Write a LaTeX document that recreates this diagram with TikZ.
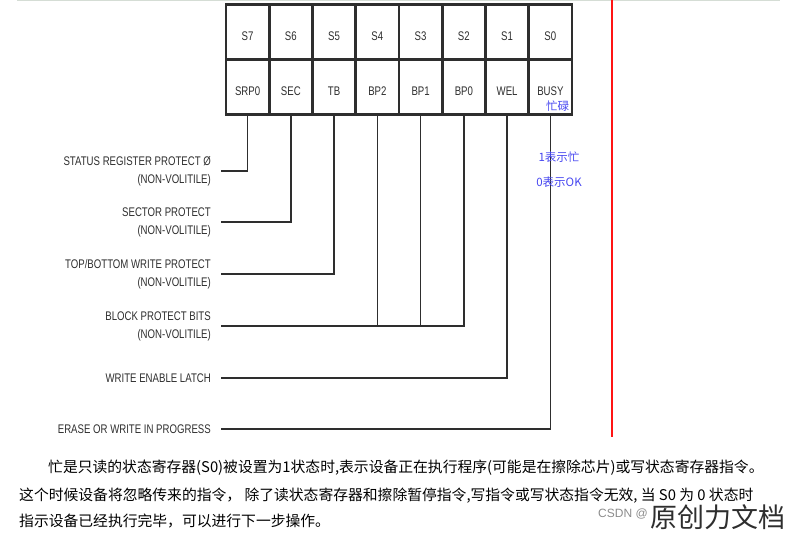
\documentclass[tikz,border=0pt]{standalone}
\usepackage{fontspec}
\usepackage{xcolor}
\usetikzlibrary{positioning}
\newfontfamily\labelfont[FakeStretch=0.77]{Liberation Sans}
\newfontfamily\cjkfont{Noto Sans CJK SC}
\definecolor{cInk}{HTML}{2E2E2E}
\definecolor{cNote}{HTML}{4646F0}
\definecolor{cRed}{HTML}{FF1414}
\definecolor{cRule}{HTML}{D5DDD5}
\definecolor{cMark}{HTML}{8C8C8C}
\tikzset{
  cell/.style ={draw=cInk, line width=2.6pt, minimum width=43.25pt, minimum height=54.5pt,
                inner sep=0pt, text height=17pt, text depth=0pt, text=cInk,
                font=\labelfont\fontsize{12.5}{15}\selectfont},
  wire/.style ={draw=cInk, line width=1.6pt},
  bitlbl/.style={anchor=east, align=right, inner sep=0pt, text=cInk,
                font=\labelfont\fontsize{12.5}{18}\selectfont},
  note/.style ={text=cNote, inner sep=0pt, font=\cjkfont\fontsize{11.5}{14}\selectfont},
  para/.style ={anchor=base west, inner sep=0pt, text=black, font=\cjkfont\fontsize{14.8}{18}\selectfont},
}

\begin{document}
\begin{tikzpicture}[x=1pt,y=-1pt]
  \useasboundingbox (0,0) rectangle (792,533);
  \draw[cRule, line width=1pt] (17,0.8) -- (780,0.8);
  \draw[cRed, line width=2.2pt] (612,0) -- (612,437);

  % status register cells
  \foreach \s/\b [count=\i from 0] in {7/SRP0,6/SEC,5/TB,4/BP2,3/BP1,2/BP0,1/WEL,0/BUSY}{
    \node[cell] (s\s) at ({247.6+43.25*\i},32) {S\s};
    \node[cell] (b\s) at ({247.6+43.25*\i},87) {\b};
  }
  \node[note, anchor=south east, xshift=-4pt, yshift=3.5pt] (busycn) at (b0.south east) {忙碌};

  % bit descriptions
  \node[bitlbl] (lsrp) at (211,171) {STATUS REGISTER PROTECT Ø\\(NON-VOLITILE)};
  \node[bitlbl] (lsec) at (211,222) {SECTOR PROTECT\\(NON-VOLITILE)};
  \node[bitlbl] (ltb) at (211,274) {TOP/BOTTOM WRITE PROTECT\\(NON-VOLITILE)};
  \node[bitlbl] (lbp) at (211,326) {BLOCK PROTECT BITS\\(NON-VOLITILE)};
  \node[bitlbl] (lwel) at (211,378) {WRITE ENABLE LATCH};
  \node[bitlbl] (lbusy) at (211,429) {ERASE OR WRITE IN PROGRESS};

  \draw[wire] ([xshift=10pt]lsrp.east) -| (b7.south);
  \draw[wire] ([xshift=10pt]lsec.east) -| (b6.south);
  \draw[wire] ([xshift=10pt]ltb.east) -| (b5.south);
  \draw[wire] ([xshift=10pt]lbp.east) -| (b2.south);
  \draw[wire] (b4.south) -- (b4.south |- lbp.east);
  \draw[wire] (b3.south) -- (b3.south |- lbp.east);
  \draw[wire] ([xshift=10pt]lwel.east) -| (b1.south);
  \draw[wire] ([xshift=10pt]lbusy.east) -| (b0.south);

  \node[note] (one) at (559,157) {1表示忙};
  \node[note] (zero) at (559,182) {0表示OK};

  % explanation below
  \node[para] (p1) at (48,472) {忙是只读的状态寄存器(S0)被设置为1状态时,表示设备正在执行程序(可能是在擦除芯片)或写状态寄存器指令。};
  \node[para] (p2) at (19,500) {这个时候设备将忽略传来的指令， 除了读状态寄存器和擦除暂停指令,写指令或写状态指令无效, 当 S0 为 0 状态时};
  \node[para] (p3) at (19,526) {指示设备已经执行完毕，可以进行下一步操作。};

  \node[anchor=west, inner sep=0pt, text=cMark, font=\fontspec{Liberation Sans}\fontsize{12}{14}\selectfont] (csdn) at (598,514) {CSDN @};
  \node[inner sep=0pt, text=cInk, font=\cjkfont\fontsize{27}{30}\selectfont] (mark) at (718,517) {原创力文档};
\end{tikzpicture}
\end{document}
